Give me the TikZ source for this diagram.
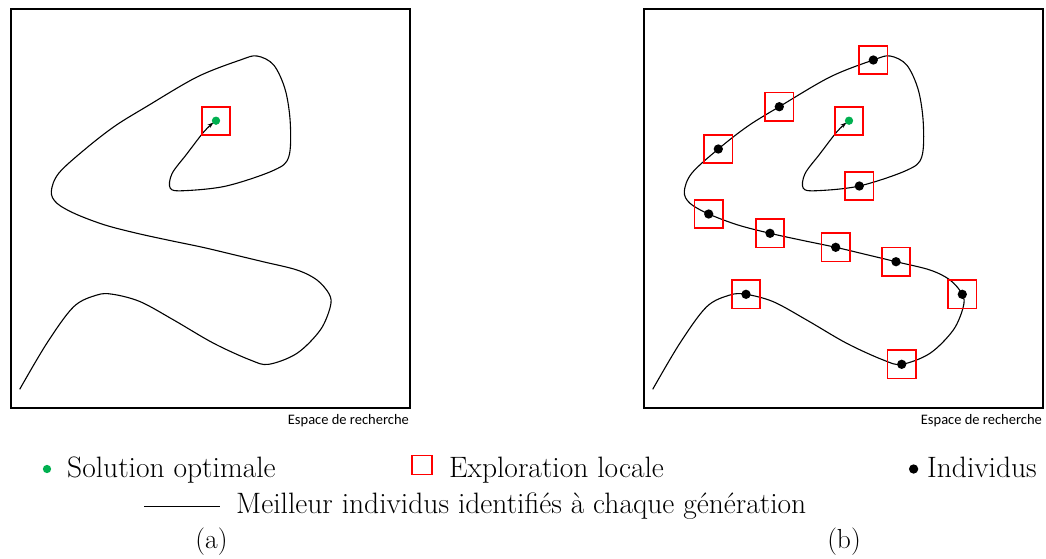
\documentclass[tikz,border=0pt]{standalone}
\usepackage{fontspec}
\usepackage{graphicx}
\newfontfamily\calib{Carlito}
\usetikzlibrary{arrows.meta}
\definecolor{optgreen}{RGB}{0,176,80}
\newcommand{\lgd}[1]{{\fontsize{29.5}{35}\selectfont #1}}
\newcommand{\capt}[1]{{\fontsize{27.5}{33}\selectfont #1}}
\begin{document}
\begin{tikzpicture}[x=1pt,y=-1pt,
  frame/.style={draw=black,line width=1.8pt},
  pathline/.style={line width=1.1pt,black},
  explo/.style={draw=red,line width=1.7pt,minimum size=28.5pt,inner sep=0pt,fill=none},
  indiv/.style={circle,fill=black,minimum size=9.3pt,inner sep=0pt},
  optim/.style={circle,fill=optgreen,minimum size=8.3pt,inner sep=0pt},
  spacelbl/.style={anchor=base east,inner sep=0pt,font=\calib\fontsize{14.5}{17}\selectfont},
  lgdtext/.style={anchor=base west,inner sep=0pt},
]
\useasboundingbox (0,0) rectangle (1046,558);

\newcommand{\thecurve}{%
  (19.7,389.3) (47,343) (73.7,306.7) (97,295) (113,294.3) (140.3,301.7)
  (173.7,320) (213.7,343.3) (250.3,360) (268.7,364.3) (297,353.3)
  (320.3,330) (330.3,306.7) (329.3,294.3) (317,280) (297,270)
  (263,261.7) (233,254.5) (202.7,247.3) (170,240.5) (137,233.3) (105,225) (75.7,214)
  (57,203.3) (51.3,191.7) (58.7,173.3) (85.3,149) (115,126) (146.3,106.7)
  (197,77) (240.3,60) (257,56) (273.7,65) (285.3,90) (290.3,123.3)
  (288.7,157) (273.7,170.3) (226.3,186) (183.7,190.7) (170.3,188.3)
  (172,173.7) (187,153.7) (203.7,132) (213.5,122.5)}

% ---------- panel (a)
\node[frame,minimum width=399pt,minimum height=399pt,inner sep=0pt,anchor=north west] (boxA) at (10,8) {};
\draw[pathline,-{Stealth[length=6pt,width=4pt]}] plot[smooth,tension=0.55] coordinates {\thecurve};
\node[optim] (optA) at (216,120.7) {};
\node[explo] (exA) at (216,121) {};
\node[spacelbl] (espA) at (409,424) {Espace de recherche};

% ---------- panel (b)
\begin{scope}[shift={(633,0)}]
\node[frame,minimum width=399pt,minimum height=399pt,inner sep=0pt,anchor=north west] (boxB) at (10,8) {};
\draw[pathline,-{Stealth[length=6pt,width=4pt]}] plot[smooth,tension=0.55] coordinates {\thecurve};
\node[optim] (optB) at (216,120.7) {};
\node[explo] (exB0) at (216,121) {};
\foreach \p [count=\i] in {(240.3,60),(146.3,106.7),(85.3,149),(226.3,186),(75.7,214),(137,233.3),(202.7,247.3),(263,261.7),(329.3,294.3),(113,294.3),(268.7,364.3)}{
  \node[explo] (exB\i) at \p {};
  \node[indiv] (inB\i) at \p {};
}
\node[spacelbl] (espB) at (409,424) {Espace de recherche};
\end{scope}

% ---------- legend
\node[optim] (lgOpt) at (47,469) {};
\node[lgdtext] (lgOptT) at (67,477) {\lgd{Solution optimale}};
\node[draw=red,line width=1.8pt,minimum width=20pt,minimum height=19pt,inner sep=0pt] (lgEx) at (422.3,465) {};
\node[lgdtext] (lgExT) at (449,477) {\lgd{Exploration locale}};
\node[indiv] (lgInd) at (913.6,469) {};
\node[lgdtext] (lgIndT) at (927,477) {\lgd{Individus}};
\coordinate (lgL1) at (144,506.5);
\coordinate (lgL2) at (219.5,506.5);
\draw[line width=1.3pt] (lgL1) -- (lgL2);
\node[lgdtext] (lgLT) at (236,513) {\lgd{Meilleur individus identifiés à chaque génération}};
\node[anchor=base,inner sep=0pt] (capA) at (211.5,548) {\capt{(a)}};
\node[anchor=base,inner sep=0pt] (capB) at (844,548) {\capt{(b)}};
\end{tikzpicture}
\end{document}
